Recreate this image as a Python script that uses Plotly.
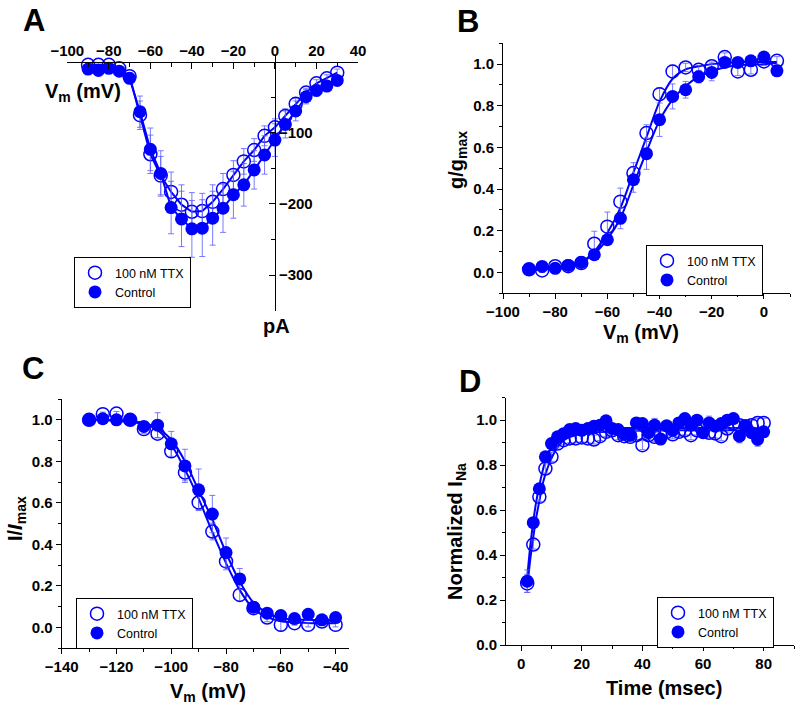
import plotly.graph_objects as go

W, H = 800, 709
BLUE = '#0000FF'
ERRC = 'rgba(90,90,255,0.8)'
FONT = 'Liberation Sans, Arial, sans-serif'

# ---------------- Panel A: I-V ----------------
a_vm = [-90, -85, -80, -75, -70, -65, -60, -55, -50, -45, -40, -35, -30,
        -25, -20, -15, -10, -5, 0, 5, 10, 15, 20, 25, 30]
a_ttx = [-4, -4, -4, -9, -20, -75, -130, -160, -183, -201, -211, -210, -197,
         -179, -159, -140, -124, -104, -92, -76, -59, -43, -30, -23, -15]
a_ttx_err = [3, 3, 3, 3, 5, 20, 27, 27, 28, 28, 27, 25, 24,
             22, 20, 18, 16, 14, 12, 10, 8, 6, 5, 5, 5]
a_ctrl = [-10, -12, -9, -13, -23, -70, -123, -157, -205, -221, -235, -234, -220,
          -206, -187, -173, -152, -131, -110, -88, -69, -49, -40, -34, -26]
a_ctrl_err = [3, 3, 3, 3, 5, 22, 30, 32, 37, 39, 40, 40, 38,
              34, 33, 30, 27, 27, 23, 19, 14, 10, 8, 6, 5]

# ---------------- Panel B: activation ----------------
b_vm = [-90, -85, -80, -75, -70, -65, -60, -55, -50, -45, -40, -35, -30,
        -25, -20, -15, -10, -5, 0, 5]
b_ttx = [0.015, 0.01, 0.03, 0.03, 0.045, 0.138, 0.22, 0.34, 0.477, 0.669, 0.856,
         0.965, 0.984, 0.973, 0.99, 1.034, 0.965, 0.973, 1.013, 1.016]
b_ttx_err = [0.01, 0.01, 0.01, 0.01, 0.01, 0.06, 0.07, 0.065, 0.05, 0.04, 0.03,
             0.03, 0.02, 0.02, 0.02, 0.02, 0.02, 0.02, 0.02, 0.02]
b_ctrl = [0.016, 0.029, 0.02, 0.034, 0.048, 0.085, 0.157, 0.26, 0.445, 0.57,
          0.733, 0.845, 0.877, 0.94, 0.96, 1.008, 1.008, 1.016, 1.034, 0.968]
b_ctrl_err = [0.01, 0.01, 0.01, 0.01, 0.01, 0.02, 0.02, 0.05, 0.06, 0.075, 0.08,
              0.06, 0.04, 0.03, 0.04, 0.02, 0.02, 0.02, 0.02, 0.02]
b_fit_vm = [-90, -80, -75, -70, -65, -60, -55, -50, -45, -40, -35, -30, -25,
            -20, -15, -10, 0, 5]
b_fit_ttx = [0.01, 0.02, 0.03, 0.05, 0.10, 0.19, 0.31, 0.48, 0.65, 0.82, 0.93,
             0.975, 0.99, 1.0, 1.005, 1.01, 1.01, 1.01]
b_fit_ctrl = [0.015, 0.02, 0.03, 0.05, 0.09, 0.16, 0.26, 0.42, 0.58, 0.73, 0.83,
              0.895, 0.94, 0.965, 0.985, 0.995, 1.0, 1.005]

# ---------------- Panel C: inactivation ----------------
c_vm = [-130, -125, -120, -115, -110, -105, -100, -95, -90, -85, -80, -75, -70,
        -65, -60, -55, -50, -45, -40]
c_ttx = [1.0, 1.027, 1.03, 1.0, 0.955, 0.933, 0.848, 0.746, 0.602, 0.462, 0.318,
         0.157, 0.093, 0.048, 0.013, 0.021, 0.013, 0.029, 0.013]
c_ttx_err = [0.01, 0.01, 0.01, 0.01, 0.02, 0.02, 0.03, 0.04, 0.035, 0.04, 0.04,
             0.03, 0.02, 0.02, 0.03, 0.01, 0.01, 0.01, 0.01]
c_ctrl = [1.0, 1.005, 1.0, 1.0, 0.968, 0.974, 0.884, 0.778, 0.663, 0.546, 0.361,
          0.234, 0.098, 0.069, 0.058, 0.043, 0.064, 0.037, 0.048]
c_ctrl_err = [0.01, 0.01, 0.01, 0.01, 0.02, 0.06, 0.06, 0.08, 0.1, 0.09, 0.07,
              0.05, 0.02, 0.02, 0.02, 0.01, 0.01, 0.01, 0.01]
c_fit_vm = [-130, -120, -110, -105, -100, -95, -90, -85, -80, -75, -70, -65,
            -60, -50, -40]
c_fit_ttx = [1.0, 0.995, 0.98, 0.95, 0.88, 0.76, 0.62, 0.46, 0.31, 0.18, 0.09,
             0.05, 0.03, 0.022, 0.02]
c_fit_ctrl = [1.0, 0.997, 0.985, 0.96, 0.905, 0.80, 0.66, 0.52, 0.36, 0.22, 0.12,
              0.07, 0.045, 0.037, 0.035]

# ---------------- Panel D: recovery ----------------
d_t = [2, 4, 6, 8, 10, 12, 14, 16, 18, 20, 22, 24, 26, 28, 30, 32, 34, 36, 38, 40,
       42, 44, 46, 48, 50, 52, 54, 56, 58, 60, 62, 64, 66, 68, 70, 72, 74, 76, 78, 80]
d_ttx = [0.274, 0.447, 0.659, 0.785, 0.837, 0.896, 0.911, 0.919, 0.919, 0.923,
         0.919, 0.914, 0.929, 0.948, 0.955, 0.933, 0.929, 0.926, 0.933, 0.889,
         0.933, 0.926, 0.933, 0.948, 0.937, 0.948, 0.955, 0.933, 0.955, 0.963,
         0.944, 0.941, 0.929, 0.963, 0.985, 0.978, 0.973, 0.978, 0.988, 0.988]
d_ttx_err = [0.04, 0.02, 0.02, 0.02, 0.02, 0.02, 0.02, 0.02, 0.02, 0.02,
             0.02, 0.02, 0.02, 0.02, 0.02, 0.02, 0.02, 0.02, 0.02, 0.02,
             0.02, 0.02, 0.02, 0.02, 0.02, 0.02, 0.02, 0.02, 0.02, 0.02,
             0.02, 0.02, 0.02, 0.02, 0.02, 0.02, 0.02, 0.02, 0.02, 0.02]
d_ctrl = [0.284, 0.544, 0.695, 0.837, 0.896, 0.926, 0.94, 0.958, 0.963, 0.955,
          0.963, 0.973, 0.978, 0.997, 0.963, 0.958, 0.937, 0.933, 0.988, 0.985,
          0.944, 0.978, 0.916, 0.975, 0.955, 0.988, 1.007, 0.978, 1.0, 0.944,
          0.988, 0.973, 0.985, 1.0, 1.007, 0.929, 0.973, 0.944, 0.914, 0.948]
d_ctrl_err = [0.05, 0.02, 0.02, 0.02, 0.02, 0.02, 0.02, 0.02, 0.02, 0.02,
              0.02, 0.02, 0.02, 0.02, 0.02, 0.02, 0.02, 0.02, 0.02, 0.02,
              0.02, 0.03, 0.02, 0.02, 0.02, 0.02, 0.02, 0.02, 0.02, 0.02,
              0.03, 0.02, 0.02, 0.02, 0.02, 0.03, 0.02, 0.02, 0.03, 0.02]
d_fit_t = [2, 3, 4, 5, 6, 7, 8, 10, 12, 14, 16, 20, 30, 50, 80]
d_fit_ttx = [0.26, 0.38, 0.48, 0.57, 0.64, 0.71, 0.76, 0.83, 0.88, 0.91, 0.925,
             0.94, 0.95, 0.955, 0.955]
d_fit_ctrl = [0.30, 0.44, 0.55, 0.64, 0.71, 0.77, 0.82, 0.88, 0.92, 0.94, 0.95,
              0.96, 0.965, 0.965, 0.965]

labels = ['100 nM TTX', 'Control']


def xp(px):
    return px / W


def yp(py):
    return 1 - py / H


fig = go.Figure()


def add_panel(n, xs, ys_ttx, e_ttx, ys_ctrl, e_ctrl, legend, line_x=None,
              fit_ttx=None, fit_ctrl=None, connect=False, shape='spline'):
    xa = 'x' if n == 1 else 'x%d' % n
    ya = 'y' if n == 1 else 'y%d' % n
    if connect:
        for yy in (ys_ttx, ys_ctrl):
            fig.add_trace(go.Scatter(x=xs, y=yy, mode='lines', xaxis=xa, yaxis=ya,
                                     line=dict(color=BLUE, width=2),
                                     showlegend=False, hoverinfo='skip',
                                     cliponaxis=False))
    if line_x is not None:
        for yy in (fit_ttx, fit_ctrl):
            fig.add_trace(go.Scatter(x=line_x, y=yy, mode='lines', xaxis=xa, yaxis=ya,
                                     line=dict(color=BLUE, width=2, shape=shape,
                                               smoothing=0.8),
                                     showlegend=False, hoverinfo='skip',
                                     cliponaxis=False))
    fig.add_trace(go.Scatter(
        x=xs, y=ys_ttx, mode='markers', name=labels[0], xaxis=xa, yaxis=ya,
        legend=legend, cliponaxis=False,
        marker=dict(symbol='circle-open', size=13, color=BLUE,
                    line=dict(color=BLUE, width=1.5)),
        error_y=dict(type='data', array=e_ttx, color=ERRC, thickness=1, width=3)))
    fig.add_trace(go.Scatter(
        x=xs, y=ys_ctrl, mode='markers', name=labels[1], xaxis=xa, yaxis=ya,
        legend=legend, cliponaxis=False,
        marker=dict(symbol='circle', size=13, color=BLUE,
                    line=dict(color=BLUE, width=0)),
        error_y=dict(type='data', array=e_ctrl, color=ERRC, thickness=1, width=3)))


add_panel(1, a_vm, a_ttx, a_ttx_err, a_ctrl, a_ctrl_err, 'legend', connect=True)
add_panel(2, b_vm, b_ttx, b_ttx_err, b_ctrl, b_ctrl_err, 'legend2',
          line_x=b_fit_vm, fit_ttx=b_fit_ttx, fit_ctrl=b_fit_ctrl)
add_panel(3, c_vm, c_ttx, c_ttx_err, c_ctrl, c_ctrl_err, 'legend3',
          line_x=c_fit_vm, fit_ttx=c_fit_ttx, fit_ctrl=c_fit_ctrl)
add_panel(4, d_t, d_ttx, d_ttx_err, d_ctrl, d_ctrl_err, 'legend4',
          line_x=d_fit_t, fit_ttx=d_fit_ttx, fit_ctrl=d_fit_ctrl)

tickfont = dict(family=FONT, size=15, color='black', weight='bold')


def axis(**kw):
    d = dict(showline=True, linecolor='black', linewidth=1, showgrid=False,
             zeroline=False, ticks='outside', ticklen=5, tickwidth=1,
             tickcolor='black', tickfont=tickfont, automargin=False)
    d.update(kw)
    return d


# Panel A pixel geometry
A_x0, A_x1 = 67.3, 358.0
A_ytop, A_ybot = 56.3, 310.5
A_zero_y = 62.0
A_zero_x = 274.9

legend_common = dict(xanchor='left', yanchor='top', bordercolor='black', borderwidth=1,
                     bgcolor='white', font=dict(family=FONT, size=12.5, color='black'),
                     tracegroupgap=0, itemwidth=30, orientation='v')

fig.update_layout(
    template='none',
    width=W, height=H, margin=dict(l=0, r=0, t=0, b=0, autoexpand=False),
    paper_bgcolor='white', plot_bgcolor='rgba(0,0,0,0)',
    xaxis=axis(domain=[xp(A_x0), xp(A_x1)], range=[-100, 40], anchor='free',
               position=yp(A_zero_y), side='top', ticks='inside', ticklen=6,
               tick0=0, dtick=20,
               minor=dict(ticks='inside', ticklen=4, tick0=0, dtick=10,
                          tickcolor='black')),
    yaxis=axis(domain=[yp(A_ybot), yp(A_ytop)], range=[-350, 8], anchor='free',
               position=xp(A_zero_x), side='right', ticks='inside', ticklen=6,
               tickvals=[-100, -200, -300],
               minor=dict(ticks='inside', ticklen=4,
                          tickvals=[-50, -150, -250, -350], tickcolor='black')),
    xaxis2=axis(domain=[xp(503), xp(790)], range=[-100, 10], anchor='y2',
                tick0=0, dtick=20,
                minor=dict(ticks='outside', ticklen=3, tick0=0, dtick=10,
                           tickcolor='black')),
    yaxis2=axis(domain=[yp(293.3), yp(43.3)], range=[-0.1, 1.1], anchor='x2',
                tick0=0, dtick=0.2, tickformat='.1f',
                minor=dict(ticks='outside', ticklen=3, tick0=0, dtick=0.1,
                           tickcolor='black')),
    xaxis3=axis(domain=[xp(61.7), xp(349.3)], range=[-140, -35], anchor='y3',
                tick0=0, dtick=20,
                minor=dict(ticks='outside', ticklen=3, tick0=0, dtick=10,
                           tickcolor='black')),
    yaxis3=axis(domain=[yp(648.3), yp(399)], range=[-0.1, 1.1], anchor='x3',
                tick0=0, dtick=0.2, tickformat='.1f',
                minor=dict(ticks='outside', ticklen=3, tick0=0, dtick=0.1,
                           tickcolor='black')),
    xaxis4=axis(domain=[xp(506), xp(794)], range=[-5, 90], anchor='y4',
                tick0=0, dtick=20,
                minor=dict(ticks='outside', ticklen=3, tick0=0, dtick=10,
                           tickcolor='black')),
    yaxis4=axis(domain=[yp(645), yp(397.7)], range=[0, 1.1], anchor='x4',
                tick0=0, dtick=0.2, tickformat='.1f',
                minor=dict(ticks='outside', ticklen=3, tick0=0, dtick=0.1,
                           tickcolor='black')),
    legend=dict(x=xp(74), y=yp(257), **legend_common),
    legend2=dict(x=xp(646), y=yp(245), **legend_common),
    legend3=dict(x=xp(76), y=yp(598), **legend_common),
    legend4=dict(x=xp(657), y=yp(597), **legend_common),
)

ann = []


def label(text, px, py, size=20, angle=0):
    ann.append(dict(text=text, x=xp(px), y=yp(py), xref='paper', yref='paper',
                    showarrow=False, textangle=angle, xanchor='center',
                    yanchor='middle',
                    font=dict(family=FONT, size=size, color='black')))


label('<b>A</b>', 33.5, 21, size=31)
label('<b>B</b>', 468.5, 21.5, size=31)
label('<b>C</b>', 33, 368, size=31)
label('<b>D</b>', 470, 381, size=31)
label('<b>V<sub>m</sub> (mV)</b>', 83, 92, size=20)
label('<b>pA</b>', 276.5, 326, size=20)
label('<b>g/g<sub>max</sub></b>', 457, 160, size=20, angle=-90)
label('<b>V<sub>m</sub> (mV)</b>', 641, 334, size=20)
label('<b>I/<i>I</i><sub>max</sub></b>', 16, 519, size=20, angle=-90)
label('<b>V<sub>m</sub> (mV)</b>', 208, 692, size=20)
label('<b>Normalized I<sub>Na</sub></b>', 456, 531, size=20, angle=-90)
label('<b>Time (msec)</b>', 664, 688, size=20)

fig.update_layout(annotations=ann)

# remove the browser's default 8px page margin so the figure sits at (0, 0)
fig.write_html("out.html",
               config={'displayModeBar': False},
               post_script="document.body.style.margin='0px';"
                           "document.documentElement.style.overflow='hidden';")
